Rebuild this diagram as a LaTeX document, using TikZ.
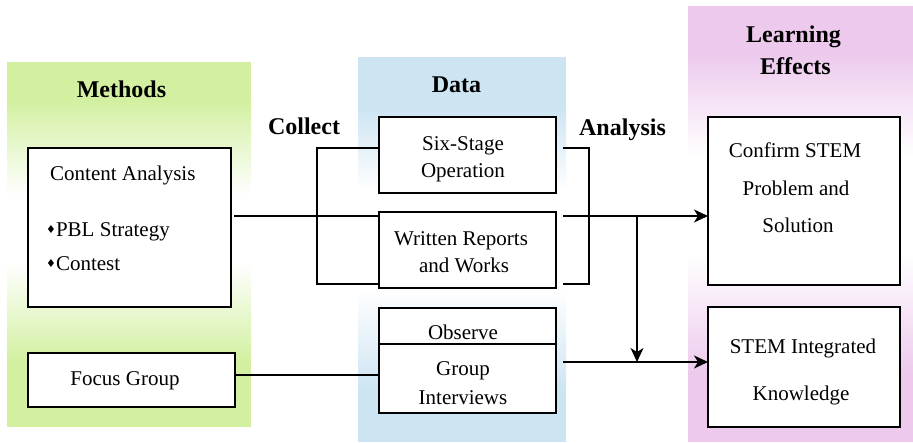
\documentclass[tikz,border=0pt]{standalone}
\usepackage{fontspec}
\setmainfont{Liberation Serif}
\newfontfamily\symbfont{DejaVu Sans}
\usetikzlibrary{arrows.meta}

\definecolor{mgreen}{RGB}{210,240,160}
\definecolor{mblue}{RGB}{205,228,243}
\definecolor{mpink}{RGB}{237,202,237}

\newcommand{\dia}{\raisebox{2.5pt}{\symbfont\fontsize{11}{11}\selectfont ♦}}

\tikzset{
  box/.style={draw, fill=white, line width=1.4pt, inner sep=0pt, outer sep=0pt},
  txt/.style={anchor=base, inner sep=0pt, font=\rmfamily\fontsize{21}{25}\selectfont},
  head/.style={anchor=base, inner sep=0pt, font=\rmfamily\fontsize{24}{28}\selectfont\bfseries},
  link/.style={line width=1.4pt},
  arr/.style={link, -{Stealth[length=14pt,width=13pt,inset=4pt]}}
}

\begin{document}
\begin{tikzpicture}[x=1pt,y=-1pt]
    \useasboundingbox (0,0) rectangle (913,442);
    %Panels: solid ends, white middle
    \fill[mgreen] (7,62) rectangle (251,100);
    \shade[top color=mgreen, bottom color=white] (7,99.5) rectangle (251,195);
    \shade[top color=white, bottom color=mgreen] (7,262) rectangle (251,362.5);
    \fill[mgreen] (7,362) rectangle (251,427);
    \fill[mblue] (358,57) rectangle (566,107);
    \shade[top color=mblue, bottom color=white] (358,106.5) rectangle (566,190);
    \shade[top color=white, bottom color=mblue] (358,290) rectangle (566,390.5);
    \fill[mblue] (358,390) rectangle (566,442);
    \fill[mpink] (688,6) rectangle (913,55);
    \shade[top color=mpink, bottom color=white] (688,54.5) rectangle (913,155);
    \shade[top color=white, bottom color=mpink] (688,255) rectangle (913,372.5);
    \fill[mpink] (688,372) rectangle (913,442);
    %Headings
    \node[head] (methods) at (121.5,97) {Methods};
    \node[head] (collect) at (304,134) {Collect};
    \node[head] (data) at (456.5,92) {Data};
    \node[head] (analysis) at (622.5,135) {Analysis};
    \node[head] (learning) at (793.5,42) {Learning};
    \node[head] (effects) at (795.5,74) {Effects};
    %Methods
    \node[box, minimum width=203pt, minimum height=159pt] (ca) at (129.5,227.5) {};
    \node[txt, anchor=base west] (catext) at (50,180) {Content Analysis};
    \node[txt, anchor=base west] (pbl) at (46,236) {\dia PBL Strategy};
    \node[txt, anchor=base west] (contest) at (46,270) {\dia Contest};
    \node[box, minimum width=207pt, minimum height=54pt] (fg) at (131.5,380) {};
    \node[txt] (fgtext) at (125,385) {Focus Group};
    %Data
    \node[box, minimum width=177pt, minimum height=76pt] (six) at (467.5,155) {};
    \node[txt] (sixa) at (463,150) {Six-Stage};
    \node[txt] (sixb) at (463,177) {Operation};
    \node[box, minimum width=177pt, minimum height=76pt] (wr) at (467.5,250) {};
    \node[txt] (wra) at (461,245) {Written Reports};
    \node[txt] (wrb) at (464,272) {and Works};
    \node[box, minimum width=177pt, minimum height=36pt] (obs) at (467.5,326) {};
    \node[txt] (obstext) at (463,339) {Observe};
    \node[box, minimum width=177pt, minimum height=69pt] (gi) at (467.5,378.5) {};
    \node[txt] (gia) at (463,375) {Group};
    \node[txt] (gib) at (463,404) {Interviews};
    %Learning effects
    \node[box, minimum width=192pt, minimum height=168pt] (cf) at (804,201) {};
    \node[txt] (cfa) at (795,157) {Confirm STEM};
    \node[txt] (cfb) at (796,195) {Problem and};
    \node[txt] (cfc) at (798,232) {Solution};
    \node[box, minimum width=192pt, minimum height=120pt] (ki) at (804,367) {};
    \node[txt] (kia) at (803,353) {STEM Integrated};
    \node[txt] (kib) at (801,400) {Knowledge};
    %Collect
    \draw[link] ([yshift=7pt]six.west) -- ++(-62,0) |- ([yshift=4pt]wr.south west);
    \draw[link] ([shift={(3pt,11.5pt)}]ca.east) -- ([yshift=-4pt]wr.north west);
    \coordinate (f1) at ([yshift=5pt]fg.east);
    \draw[link] (f1) -- (f1 -| gi.west);
    %Analysis
    \draw[link] ([shift={(7pt,7pt)}]six.east) -- ++(26,0) |- ([shift={(7pt,4pt)}]wr.south east);
    \coordinate (r1) at ([shift={(7pt,-4pt)}]wr.north east);
    \coordinate (r2) at ([shift={(7pt,16.5pt)}]gi.east);
    \draw[arr] (r1) -- (r1 -| cf.west);
    \draw[arr] (r2) -- (r2 -| ki.west);
    \coordinate (split) at (637,216);
    \coordinate (merge) at (637,362);
    \draw[arr] (split) -- (merge);
\end{tikzpicture}
\end{document}
